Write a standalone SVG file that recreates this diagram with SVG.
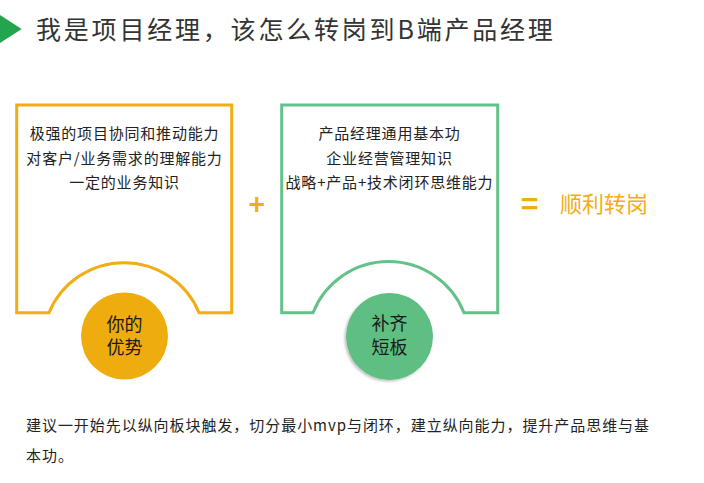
<svg xmlns="http://www.w3.org/2000/svg" width="704" height="483" viewBox="0 0 704 483">
<style>
text{font-family:"Noto Sans CJK SC","Noto Sans",sans-serif;}
.title{font-size:25px;fill:#333;letter-spacing:2.8px;}
.body{font-size:15px;fill:#222;letter-spacing:0.8px;text-anchor:middle;}
.note{font-size:15px;fill:#222;letter-spacing:0.95px;}
.ctext{font-size:18px;fill:#1a1a1a;text-anchor:middle;}
.orange{fill:#F0AE12;}
.boxO{fill:#fff;stroke:#F0AE12;stroke-width:3;}
.boxG{fill:#fff;stroke:#64C189;stroke-width:3;}
</style>
<defs>
<filter id="sh" x="-20%" y="-20%" width="140%" height="140%">
<feDropShadow dx="-1.5" dy="1.5" stdDeviation="1.2" flood-color="#000" flood-opacity="0.25"/>
</filter>
</defs>
<rect width="704" height="483" fill="#fff"/>
<g id="title">
<polygon points="0,15 21.7,29 0,43" fill="#22A54F"/>
<text class="title" x="36" y="39">我是项目经理，该怎么转岗到B端产品经理</text>
</g>
<g id="box-advantage">
<path class="boxO" d="M16.7 105 H231.7 V312.7 H199 A81.25 81.25 0 0 0 49 312.7 H16.7 Z"/>
<text class="body" x="124.5" y="139">极强的项目协同和推动能力</text>
<text class="body" x="124.5" y="163.5">对客户/业务需求的理解能力</text>
<text class="body" x="124.5" y="188">一定的业务知识</text>
</g>
<g id="circle-advantage">
<circle cx="124.5" cy="336" r="43.5" fill="#EEAC0F"/>
<text class="ctext" x="124.5" y="330.5">你的</text>
<text class="ctext" x="124.5" y="354">优势</text>
</g>
<g id="box-shortboard">
<path class="boxG" d="M281.7 105 H497.7 V312.7 H464 A81.25 81.25 0 0 0 313 312.7 H281.7 Z"/>
<text class="body" x="389.5" y="139">产品经理通用基本功</text>
<text class="body" x="389.5" y="163.5">企业经营管理知识</text>
<text class="body" x="389.5" y="188">战略+产品+技术闭环思维能力</text>
</g>
<g id="circle-shortboard">
<circle cx="389.5" cy="336.5" r="43.5" fill="#5EBF83" filter="url(#sh)"/>
<text class="ctext" x="389.5" y="329.5">补齐</text>
<text class="ctext" x="389.5" y="353.5">短板</text>
</g>
<g id="operators">
<text class="orange" x="256.7" y="214.5" font-size="28" font-weight="bold" text-anchor="middle">+</text>
<text class="orange" x="529.5" y="215" font-size="30" font-weight="bold" text-anchor="middle">=</text>
</g>
<g id="result">
<text class="orange" x="560" y="212" font-size="22">顺利转岗</text>
</g>
<g id="connectors"></g>
<g id="note">
<text class="note" x="26" y="431">建议一开始先以纵向板块触发，切分最小mvp与闭环，建立纵向能力，提升产品思维与基</text>
<text class="note" x="26" y="460.5">本功。</text>
</g>
</svg>
